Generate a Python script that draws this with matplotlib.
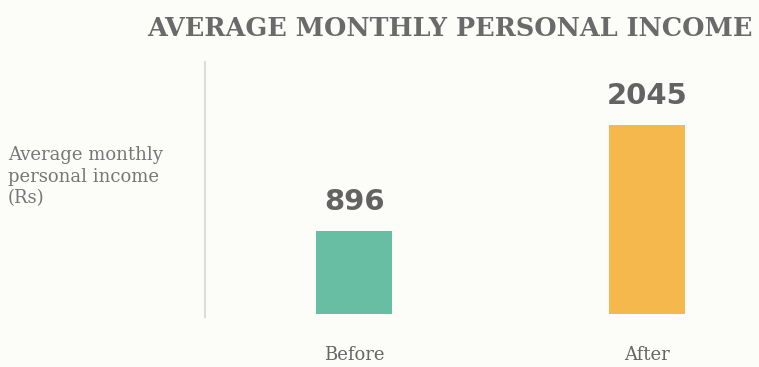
import matplotlib
matplotlib.use("Agg")
import matplotlib.pyplot as plt

categories = ["Before", "After"]
income = [896, 2045]
colors = ["#68bea2", "#f5b84c"]

bg = "#fcfcf9"
fig = plt.figure(figsize=(7.59, 3.67), dpi=100, facecolor=bg)
ax = fig.add_axes([205 / 759, 1 - 317 / 367, 554 / 759, 255 / 367], facecolor=bg)

x = range(len(categories))
bars = ax.bar(x, income, width=0.26, color=colors)

for b, v in zip(bars, income):
    ax.annotate(str(v), (b.get_x() + b.get_width() / 2, v),
                xytext=(0, 11), textcoords="offset points",
                ha="center", va="bottom", fontsize=21, fontweight="bold",
                color="#636363", family="DejaVu Sans")

ax.set_xlim(-0.509, 1.382)
ax.set_ylim(-32, 2727)

for s in ["top", "right", "bottom"]:
    ax.spines[s].set_visible(False)
ax.spines["left"].set_color("#dcdcdc")
ax.spines["left"].set_linewidth(1.5)
ax.set_yticks([])
ax.set_xticks(list(x))
ax.set_xticklabels(categories, family="DejaVu Serif", fontsize=13, color="#666666")
ax.tick_params(axis="x", length=0, pad=21)

fig.text(8 / 759, 1 - 177 / 367, "Average monthly\npersonal income\n(Rs)",
         ha="left", va="center", family="DejaVu Serif", fontsize=13,
         color="#777777", linespacing=1.25)

fig.text(450 / 759, 1 - 29 / 367, "AVERAGE MONTHLY PERSONAL INCOME",
         ha="center", va="center", family="DejaVu Serif", fontweight="bold",
         fontsize=18.4, color="#6a6a6a")

fig.savefig("out.png", dpi=100, facecolor=bg)
